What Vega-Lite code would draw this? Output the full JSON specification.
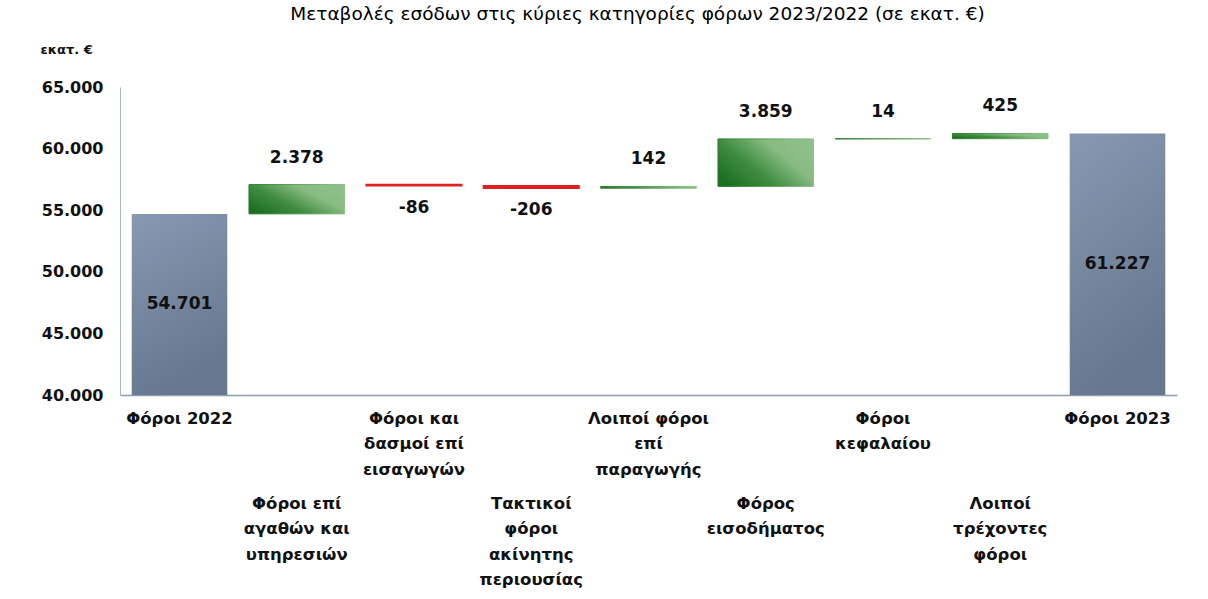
{
  "$schema": "https://vega.github.io/schema/vega-lite/v6.json",
  "autosize": "none",
  "width": 1057,
  "height": 308,
  "padding": {"left": 120, "top": 87, "right": 31, "bottom": 204},
  "background": "white",
  "config": {
    "view": {"stroke": null},
    "locale": {"number": {"decimal": ",", "thousands": ".", "grouping": [3], "currency": ["", " €"], "minus": "-"}},
    "font": "DejaVu Sans"
  },
  "title": {
    "text": "Μεταβολές εσόδων στις κύριες κατηγορίες φόρων 2023/2022 (σε εκατ. €)",
    "fontSize": 18.5,
    "fontWeight": "normal",
    "color": "#000000",
    "anchor": "middle",
    "frame": "group",
    "baseline": "alphabetic",
    "offset": 5,
    "dx": -11
  },
  "data": {
    "values": [
      {"cat": "Φόροι  2022", "start": 40000, "end": 54701, "value": 54701, "type": "total"},
      {"cat": "Φόροι επί|αγαθών και|υπηρεσιών", "start": 54701, "end": 57079, "value": 2378, "type": "pos"},
      {"cat": "Φόροι και|δασμοί επί|εισαγωγών", "start": 57079, "end": 56993, "value": -86, "type": "neg"},
      {"cat": "Τακτικοί|φόροι|ακίνητης|περιουσίας", "start": 56993, "end": 56787, "value": -206, "type": "neg"},
      {"cat": "Λοιποί φόροι|επί|παραγωγής", "start": 56787, "end": 56929, "value": 142, "type": "pos"},
      {"cat": "Φόρος|εισοδήματος", "start": 56929, "end": 60788, "value": 3859, "type": "pos"},
      {"cat": "Φόροι|κεφαλαίου", "start": 60788, "end": 60802, "value": 14, "type": "pos"},
      {"cat": "Λοιποί|τρέχοντες|φόροι", "start": 60802, "end": 61227, "value": 425, "type": "pos"},
      {"cat": "Φόροι  2023", "start": 40000, "end": 61227, "value": 61227, "type": "total"}
    ]
  },
  "encoding": {
    "x": {
      "field": "cat",
      "type": "nominal",
      "sort": null,
      "scale": {
        "domain": ["Φόροι  2022", "Φόροι επί|αγαθών και|υπηρεσιών", "Φόροι και|δασμοί επί|εισαγωγών", "Τακτικοί|φόροι|ακίνητης|περιουσίας", "Λοιποί φόροι|επί|παραγωγής", "Φόρος|εισοδήματος", "Φόροι|κεφαλαίου", "Λοιποί|τρέχοντες|φόροι", "Φόροι  2023"],
        "paddingInner": 0.185, "paddingOuter": 0.1
      },
      "axis": {
        "title": null,
        "labelAngle": 0,
        "labelExpr": "split(datum.label, '|')",
        "labelFont": "DejaVu Sans",
        "labelFontSize": 16.5,
        "labelFontWeight": "bold",
        "labelColor": "#111111",
        "labelLineHeight": 25.5,
        "labelBaseline": "top",
        "labelPadding": {
          "condition": {
            "test": "indexof(['Φόροι επί|αγαθών και|υπηρεσιών','Τακτικοί|φόροι|ακίνητης|περιουσίας','Φόρος|εισοδήματος','Λοιποί|τρέχοντες|φόροι'], datum.value) >= 0",
            "value": 100
          },
          "value": 15
        },
        "ticks": false,
        "domainColor": "#8e9cb6",
        "domainWidth": 1.5,
        "labelOverlap": false,
        "labelLimit": 0
      }
    }
  },
  "layer": [
    {
      "transform": [{"filter": "datum.type == 'total'"}],
      "mark": {
        "type": "bar",
        "color": {
          "gradient": "linear", "x1": 0, "y1": 0, "x2": 0.3, "y2": 1,
          "stops": [{"offset": 0, "color": "#8898b2"}, {"offset": 1, "color": "#66778f"}]
        }
      },
      "encoding": {
        "y": {
          "field": "start", "type": "quantitative",
          "scale": {"domain": [40000, 65000], "nice": false, "zero": false},
          "axis": {
            "title": "εκατ. €",
            "titleAngle": 0,
            "titleAlign": "left",
            "titleBaseline": "middle",
            "titleX": -80,
            "titleY": -38,
            "titleFont": "DejaVu Sans",
            "titleFontSize": 13,
            "titleFontWeight": "bold",
            "titleColor": "#111111",
            "values": [40000, 45000, 50000, 55000, 60000, 65000],
            "format": ",d",
            "grid": false,
            "ticks": false,
            "domainColor": "#a9b4c8",
            "labelFont": "DejaVu Sans",
            "labelFontSize": 16,
            "labelFontWeight": "bold",
            "labelColor": "#111111",
            "labelPadding": 17
          }
        },
        "y2": {"field": "end"}
      }
    },
    {
      "transform": [{"filter": "datum.type == 'pos'"}],
      "mark": {
        "type": "bar",
        "strokeWidth": 1,
        "color": {
          "gradient": "linear", "x1": 0, "y1": 0.8, "x2": 1, "y2": 0.2,
          "stops": [{"offset": 0, "color": "#1c6e22"}, {"offset": 0.35, "color": "#3f8c40"}, {"offset": 0.7, "color": "#88bb82"}, {"offset": 1, "color": "#8fc08a"}]
        },
        "stroke": {
          "gradient": "linear", "x1": 0, "y1": 0.5, "x2": 1, "y2": 0.5,
          "stops": [{"offset": 0, "color": "#2a7a2e"}, {"offset": 1, "color": "#8fc08a"}]
        }
      },
      "encoding": {"y": {"field": "start", "type": "quantitative"}, "y2": {"field": "end"}}
    },
    {
      "transform": [{"filter": "datum.type == 'neg'"}],
      "mark": {"type": "bar", "color": "#e01f1f", "stroke": "#e01f1f", "strokeWidth": 1.5},
      "encoding": {"y": {"field": "start", "type": "quantitative"}, "y2": {"field": "end"}}
    },
    {
      "transform": [{"filter": "datum.type == 'total'"}, {"calculate": "(datum.start + datum.end) / 2", "as": "mid"}],
      "mark": {"type": "text", "fontSize": 17, "fontWeight": "bold", "color": "#111111", "baseline": "middle"},
      "encoding": {"y": {"field": "mid", "type": "quantitative"}, "text": {"field": "value", "type": "quantitative", "format": ",d"}}
    },
    {
      "transform": [{"filter": "datum.type == 'pos'"}],
      "mark": {"type": "text", "fontSize": 17, "fontWeight": "bold", "color": "#111111", "baseline": "middle", "dy": -27},
      "encoding": {"y": {"field": "end", "type": "quantitative"}, "text": {"field": "value", "type": "quantitative", "format": ",d"}}
    },
    {
      "transform": [{"filter": "datum.type == 'neg'"}],
      "mark": {"type": "text", "fontSize": 17, "fontWeight": "bold", "color": "#111111", "baseline": "middle", "dy": 22},
      "encoding": {"y": {"field": "end", "type": "quantitative"}, "text": {"field": "value", "type": "quantitative", "format": ",d"}}
    }
  ]
}
